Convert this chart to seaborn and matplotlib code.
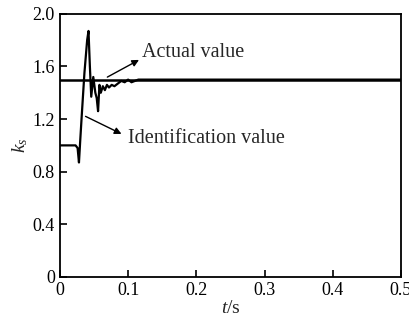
import numpy as np
import pandas as pd
import matplotlib
matplotlib.use('Agg')
import matplotlib.pyplot as plt
import seaborn as sns

# identification curve
t_ident = [0.000, 0.023, 0.026, 0.028, 0.030, 0.032, 0.036, 0.040, 0.042, 0.044,
           0.046, 0.049, 0.052, 0.054, 0.056, 0.058, 0.060, 0.063, 0.066, 0.069,
           0.072, 0.076, 0.080, 0.085, 0.090, 0.095, 0.100, 0.105, 0.110, 0.115,
           0.120, 0.500]
k_ident = [1.00, 1.00, 0.98, 0.87, 1.05, 1.22, 1.55, 1.80, 1.87, 1.60,
           1.37, 1.52, 1.40, 1.36, 1.26, 1.46, 1.40, 1.45, 1.42, 1.46,
           1.44, 1.46, 1.45, 1.47, 1.49, 1.48, 1.50, 1.48, 1.49, 1.50,
           1.50, 1.50]
# actual value
t_actual = [0.0, 0.5]
k_actual = [1.5, 1.5]

x_ticks = [0, 0.1, 0.2, 0.3, 0.4, 0.5]
x_labels = ['0', '0.1', '0.2', '0.3', '0.4', '0.5']
y_ticks = [0, 0.4, 0.8, 1.2, 1.6, 2.0]
y_labels = ['0', '0.4', '0.8', '1.2', '1.6', '2.0']

sns.set_style('ticks')
plt.rcParams['font.family'] = ['Liberation Serif', 'DejaVu Serif']
plt.rcParams['mathtext.fontset'] = 'custom'
plt.rcParams['mathtext.it'] = 'Liberation Serif:italic'
plt.rcParams['mathtext.rm'] = 'Liberation Serif'

fig = plt.figure(figsize=(4.1, 3.22), dpi=100)
ax = fig.add_axes([0.146, 0.140, 0.832, 0.817])

df_id = pd.DataFrame({'t': t_ident, 'k': k_ident})
df_ac = pd.DataFrame({'t': t_actual, 'k': k_actual})
sns.lineplot(data=df_ac, x='t', y='k', ax=ax, color='black', linewidth=1.8)
sns.lineplot(data=df_id, x='t', y='k', ax=ax, color='black', linewidth=1.6)

ax.set_xlim(0, 0.5); ax.set_ylim(0, 2.0)
ax.set_xticks(x_ticks); ax.set_xticklabels(x_labels)
ax.set_yticks(y_ticks); ax.set_yticklabels(y_labels)
ax.tick_params(direction='in', length=5, width=1.2, labelsize=13, colors='black')
for s in ax.spines.values():
    s.set_linewidth(1.3); s.set_color('black')

ax.set_xlabel('$t$/s', fontsize=14, labelpad=1)
ax.set_ylabel('$k_s$', fontsize=14, labelpad=2)

ax.annotate('', xy=(0.1196, 1.66), xytext=(0.066, 1.509),
            arrowprops=dict(arrowstyle='-|>', color='black', lw=1.0, mutation_scale=10))
ax.text(0.120, 1.707, 'Actual value', fontsize=14.5, ha='left', va='center')
ax.annotate('', xy=(0.094, 1.078), xytext=(0.034, 1.23),
            arrowprops=dict(arrowstyle='-|>', color='black', lw=1.0, mutation_scale=10))
ax.text(0.100, 1.055, 'Identification value', fontsize=14.5, ha='left', va='center')

plt.savefig('out.png', dpi=100)
